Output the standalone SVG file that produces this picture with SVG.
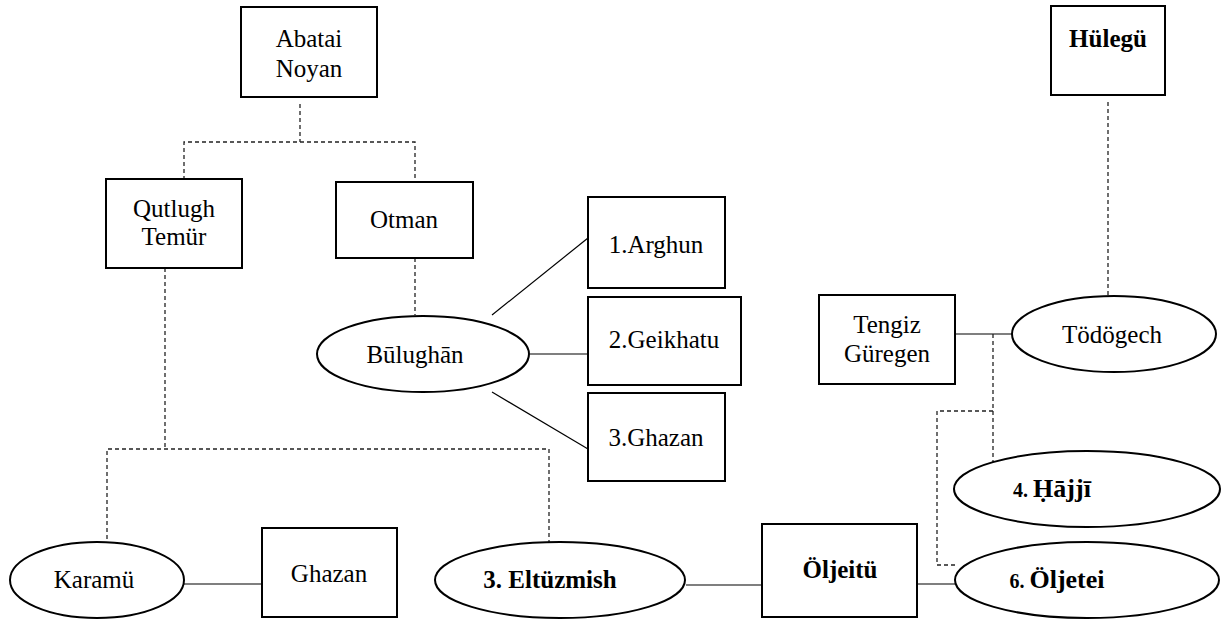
<svg xmlns="http://www.w3.org/2000/svg" width="1226" height="620" viewBox="0 0 1226 620">
<style>
.box{fill:#fff;stroke:#000;stroke-width:2}
.ell{fill:#fff;stroke:#000;stroke-width:2}
.t{font-family:'Liberation Serif','Times New Roman','DejaVu Serif',serif;font-size:25px;fill:#000;text-anchor:middle}
.b{font-weight:bold}
.solid{fill:none;stroke:#000;stroke-width:1.2}
.dash{fill:none;stroke:#222;stroke-width:1.3;stroke-dasharray:4 3}
</style>
<rect width="1226" height="620" fill="#fff"/>
<g id="connectors">
<polyline class="dash" points="300,104 300,142"/>
<polyline class="dash" points="184,180 184,142 415,142 415,182"/>
<polyline class="dash" points="415,258 415,315"/>
<polyline class="dash" points="165,268 165,449"/>
<polyline class="dash" points="107,546 107,449 549,449 549,544"/>
<line class="solid" x1="492" y1="315" x2="588" y2="238"/>
<line class="solid" x1="530" y1="354" x2="588" y2="354"/>
<line class="solid" x1="492" y1="392" x2="588" y2="449"/>
<line class="solid" x1="184" y1="584" x2="262" y2="584"/>
<line class="solid" x1="686" y1="585" x2="762" y2="585"/>
<line class="solid" x1="917" y1="584" x2="955" y2="584"/>
<line class="solid" x1="955" y1="334" x2="1012" y2="334"/>
<polyline class="dash" points="1108,102 1108,296"/>
<polyline class="dash" points="993,334 993,467"/>
<polyline class="dash" points="993,411 937,411 937,565 958,565"/>
</g>
<g id="abatai"><rect class="box" x="241" y="7" width="136" height="90"/><text class="t" x="309" y="47">Abatai</text><text class="t" x="309" y="77">Noyan</text></g>
<g id="qutlugh"><rect class="box" x="106" y="179" width="136" height="89"/><text class="t" x="174" y="217">Qutlugh</text><text class="t" x="174" y="245">Temür</text></g>
<g id="otman"><rect class="box" x="336" y="182" width="137" height="76"/><text class="t" x="404" y="228">Otman</text></g>
<g id="bulughan"><ellipse class="ell" cx="423" cy="354" rx="106" ry="38"/><text class="t" x="415" y="363">Būlughān</text></g>
<g id="arghun"><rect class="box" x="588" y="197" width="137" height="91"/><text class="t" x="656" y="253">1.Arghun</text></g>
<g id="geikhatu"><rect class="box" x="588" y="297" width="153" height="88"/><text class="t" x="664" y="348">2.Geikhatu</text></g>
<g id="ghazan3"><rect class="box" x="588" y="393" width="137" height="88"/><text class="t" x="656" y="446">3.Ghazan</text></g>
<g id="karamu"><ellipse class="ell" cx="97" cy="580" rx="87" ry="38"/><text class="t" x="94" y="588">Karamü</text></g>
<g id="ghazan"><rect class="box" x="262" y="528" width="135" height="89"/><text class="t" x="329" y="582">Ghazan</text></g>
<g id="eltuzmish"><ellipse class="ell" cx="560" cy="580" rx="125" ry="38"/><text class="t b" x="550" y="588" font-size="26">3. Eltüzmish</text></g>
<g id="oljeitu"><rect class="box" x="762" y="524" width="155" height="93"/><text class="t b" x="840" y="578">Öljeitü</text></g>
<g id="oljetei"><ellipse class="ell" cx="1087" cy="580" rx="132" ry="38"/><text class="t b" x="1057" y="588"><tspan font-size="20">6. </tspan><tspan font-size="26">Öljetei</tspan></text></g>
<g id="hajji"><ellipse class="ell" cx="1087" cy="489" rx="133" ry="38"/><text class="t b" x="1052" y="497"><tspan font-size="20">4.  </tspan><tspan font-size="26">Ḥājjī</tspan></text></g>
<g id="tengiz"><rect class="box" x="819" y="295" width="136" height="89"/><text class="t" x="887" y="333">Tengiz</text><text class="t" x="887" y="362">Güregen</text></g>
<g id="todogech"><ellipse class="ell" cx="1114" cy="334" rx="102" ry="38"/><text class="t" x="1112" y="343">Tödögech</text></g>
<g id="hulegu"><rect class="box" x="1051" y="6" width="114" height="89"/><text class="t b" x="1108" y="47">Hülegü</text></g>
</svg>
